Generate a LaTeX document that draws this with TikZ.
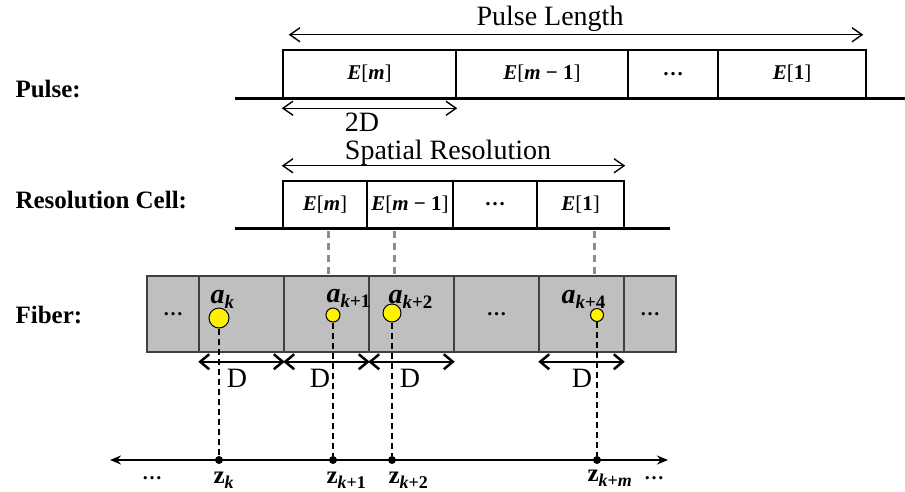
\documentclass[tikz,border=0pt]{standalone}
\usepackage{fontspec}
\setmainfont{Liberation Serif}
\usetikzlibrary{arrows.meta}
\definecolor{fibergray}{HTML}{BFBFBF}
\definecolor{edgegray}{HTML}{404040}
\definecolor{dashgray}{HTML}{8C8C8C}
\newcommand{\bfit}[1]{\textbf{\textit{#1}}}
\newcommand{\lowidx}[2]{\raisebox{-0.2em}{\fontsize{#1}{#1}\selectfont #2}}

\begin{document}
\begin{tikzpicture}[x=1pt, y=-1pt,
    lbl/.style={font=\fontsize{25}{27}\selectfont\bfseries, anchor=base west},
    ttl/.style={font=\fontsize{28}{30}\selectfont, anchor=base},
    cell/.style={draw, line width=2.5pt, inner sep=0pt, font=\fontsize{21}{23}\selectfont},
    fcell/.style={draw=edgegray, fill=fibergray, line width=1.5pt, inner sep=0pt,
        minimum height=76pt, font=\fontsize{20}{22}\selectfont\bfseries},
    atom/.style={circle, draw, fill=yellow, line width=1pt, inner sep=0pt},
    alabel/.style={anchor=base west, font=\fontsize{28}{30}\selectfont},
    zlabel/.style={anchor=base west, font=\fontsize{25}{27}\selectfont},
    dot/.style={circle, fill, inner sep=0pt, minimum size=8pt},
    dimarrow/.style={{Straight Barb[length=10pt,width=14pt]}-{Straight Barb[length=10pt,width=14pt]}, line width=1.4pt},
    darrow/.style={{Straight Barb[length=9pt,width=15pt]}-{Straight Barb[length=9pt,width=15pt]}, line width=2.5pt},
    baseline/.style={line width=3pt},
    vdash/.style={dashed, line width=1.5pt, dash pattern=on 6pt off 4pt},
    gdash/.style={dashgray, line width=3pt, dash pattern=on 7pt off 5pt}]
    \useasboundingbox (0,0) rectangle (905,491);

    % Row labels
    \node[lbl] (lpulse) at (12,97) {Pulse:};
    \node[lbl] (lres) at (12,208) {Resolution Cell:};
    \node[lbl] (lfiber) at (12,323) {Fiber:};

    % Pulse
    \draw[baseline] (235,98) -- (905,98);
    \node[cell, minimum width=173pt, minimum height=48pt] (p1) at (369.5,74) {\bfit{E}[\bfit{m}]};
    \node[cell, minimum width=172pt, minimum height=48pt] (p2) at (542,74) {\bfit{E}[\bfit{m} \textbf{−} \textbf{1}]};
    \node[cell, minimum width=90pt, minimum height=48pt] (p3) at (673,74) {\textbf{\dots}};
    \node[cell, minimum width=148pt, minimum height=48pt] (p4) at (792,74) {\bfit{E}[\textbf{1}]};
    \draw[dimarrow] ([shift={(7pt,14pt)}]p1.north west) -- ([shift={(-4pt,14pt)}]p4.north east);
    \node[ttl] (plen) at (550,25) {Pulse Length};
    \draw[dimarrow] ([yshift=-9pt]p1.south west) -- ([yshift=-9pt]p1.south east);
    \node[ttl] (twod) at (362,131) {2D};

    % Resolution cell
    \draw[baseline] (235,228) -- (670,228);
    \node[cell, minimum width=84pt, minimum height=47pt] (r1) at (325,204.5) {\bfit{E}[\bfit{m}]};
    \node[cell, minimum width=86pt, minimum height=47pt] (r2) at (410,204.5) {\bfit{E}[\bfit{m} \textbf{−} \textbf{1}]};
    \node[cell, minimum width=84pt, minimum height=47pt] (r3) at (495,204.5) {\textbf{\dots}};
    \node[cell, minimum width=87pt, minimum height=47pt] (r4) at (580.5,204.5) {\bfit{E}[\textbf{1}]};
    \draw[dimarrow] ([yshift=14pt]r1.north west) -- ([yshift=14pt]r4.north east);
    \node[ttl] (sres) at (448,159) {Spatial Resolution};
    %\draw[dimarrow] (283,167) -- (623,167);

    % Links to fiber
    \draw[gdash] ([shift={(3pt,-2pt)}]r1.south) -- ++(0,-46pt);
    \draw[gdash] ([shift={(-16pt,-2pt)}]r2.south) -- ++(0,-46pt);
    \draw[gdash] ([shift={(13.5pt,-2pt)}]r4.south) -- ++(0,-46pt);

    % Fiber
    \foreach \n/\cx/\w/\t in {f1/173/52/{\dots}, f2/241.5/85/{}, f3/326.5/85/{},
        f4/411.5/85/{}, f5/496.5/85/{\dots}, f6/581.5/85/{}, f7/650/52/{\dots}}
        \node[fcell, minimum width=\w pt] (\n) at (\cx,314) {\t};

    % Scatterers
    \node[atom, minimum size=20pt] (c1) at (219,318) {};
    \node[atom, minimum size=14pt] (c2) at (333,315) {};
    \node[atom, minimum size=18pt] (c3) at (392,313) {};
    \node[atom, minimum size=13pt] (c4) at (597,315) {};
    \node[alabel] (a1) at (207,303) {\bfit{a}\lowidx{19}{\bfit{k}}};
    \node[alabel] (a2) at (323,302) {\bfit{a}\lowidx{19}{\bfit{k}\textbf{+1}}};
    \node[alabel] (a3) at (385,303) {\bfit{a}\lowidx{19}{\bfit{k}\textbf{+2}}};
    \node[alabel] (a4) at (558,303) {\bfit{a}\lowidx{19}{\bfit{k}\textbf{+4}}};

    % Cell widths
    \foreach \n in {f2,f3,f4,f6}
        \draw[darrow] ([yshift=-9pt]\n.south west) -- ([yshift=-9pt]\n.south east);
    \node[ttl] (d1) at (237,387) {D};
    \node[ttl] (d2) at (320,387) {D};
    \node[ttl] (d3) at (410,387) {D};
    \node[ttl] (d4) at (582,387) {D};

    % Axis
    \coordinate (axl) at (110,460);
    \coordinate (axr) at (668,460);
    \draw[{Stealth[length=11pt,width=9pt]}-{Stealth[length=11pt,width=9pt]}, line width=2pt] (axl) -- (axr);
    \node[dot] (z1) at (219,460) {};
    \node[dot] (z2) at (333,460) {};
    \node[dot] (z3) at (392,460) {};
    \node[dot] (z4) at (597,460) {};
    \foreach \i in {1,...,4}
        \draw[vdash] (c\i) -- (z\i);
    \node[zlabel] (zk1) at (210,483) {\textbf{z}\lowidx{18}{\bfit{k}}};
    \node[zlabel] (zk2) at (323,483) {\textbf{z}\lowidx{18}{\bfit{k}\textbf{+1}}};
    \node[zlabel] (zk3) at (385,483) {\textbf{z}\lowidx{18}{\bfit{k}\textbf{+2}}};
    \node[zlabel] (zk4) at (584,481) {\textbf{z}\lowidx{18}{\bfit{k}\textbf{+}\bfit{m}}};
    \node[anchor=base, font=\fontsize{20}{22}\selectfont\bfseries] (el) at (152,479) {\dots};
    \node[anchor=base, font=\fontsize{20}{22}\selectfont\bfseries] (er) at (654,479) {\dots};
\end{tikzpicture}
\end{document}
